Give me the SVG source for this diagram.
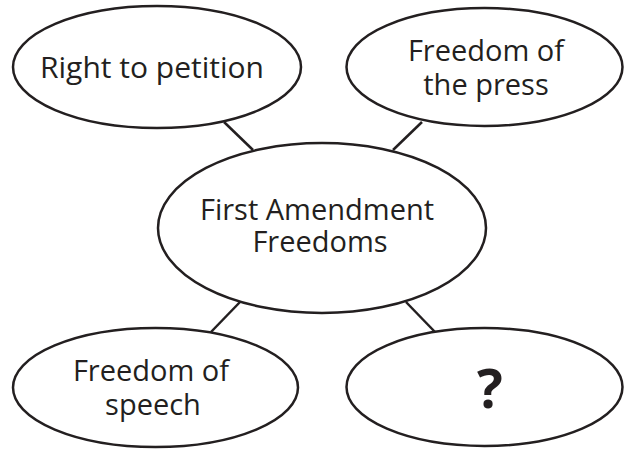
<svg xmlns="http://www.w3.org/2000/svg" width="625" height="450" viewBox="0 0 625 450">
<style>
.node ellipse{fill:#fff;stroke:#231f20;stroke-width:2.5}
.lbl{font-family:"Open Sans","Liberation Sans",sans-serif;font-size:29px;fill:#231f20;text-anchor:middle}
.q{font-family:"Open Sans","Liberation Sans",sans-serif;font-size:54px;font-weight:bold;fill:#231f20;text-anchor:middle}
#connectors line{stroke:#231f20;stroke-width:2.5}
</style>
<rect width="625" height="450" fill="#fff"/>
<g id="connectors">
<line x1="224" y1="122" x2="253" y2="150"/>
<line x1="422" y1="122" x2="393" y2="150"/>
<line x1="240" y1="302" x2="211" y2="332"/>
<line x1="406" y1="302" x2="435" y2="332"/>
</g>
<g id="n-petition" class="node">
<ellipse cx="157" cy="67" rx="144" ry="61"/>
<text class="lbl" x="152" y="78" style="font-size:30px">Right to petition</text>
</g>
<g id="n-press" class="node">
<ellipse cx="484.5" cy="67" rx="138" ry="59"/>
<text class="lbl"><tspan x="486" y="61">Freedom of</tspan><tspan x="486" y="95">the press</tspan></text>
</g>
<g id="n-center" class="node">
<ellipse cx="322" cy="228" rx="164" ry="85"/>
<text class="lbl"><tspan x="317" y="220">First Amendment</tspan><tspan x="320" y="252">Freedoms</tspan></text>
</g>
<g id="n-speech" class="node">
<ellipse cx="155.5" cy="387.5" rx="142.5" ry="59.5"/>
<text class="lbl"><tspan x="151" y="381">Freedom of</tspan><tspan x="153" y="415">speech</tspan></text>
</g>
<g id="n-unknown" class="node">
<ellipse cx="484.5" cy="387" rx="138" ry="59"/>
<text class="q" x="490" y="408">?</text>
</g>
</svg>
